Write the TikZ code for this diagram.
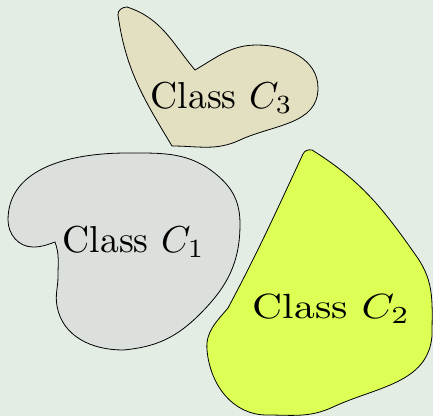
\documentclass[tikz,border=0pt]{standalone}
\usepackage{fontspec}
\begin{document}
\begin{tikzpicture}[x=1pt,y=1pt,
  blob/.style={draw=black,line width=0.8pt},
  lbl/.style={anchor=base west,inner sep=0pt,font=\fontsize{10}{12}\selectfont}]
\definecolor{bgc}{RGB}{228,237,228}
\definecolor{cone}{RGB}{220,224,220}
\definecolor{ctwo}{RGB}{221,255,85}
\definecolor{cthree}{RGB}{226,224,192}
\fill[bgc] (0,0) rectangle (433,416);
\useasboundingbox (0,0) rectangle (433,416);
% C3
\path[blob,fill=cthree] (195,346) to[out=30,in=180] (257,371) to[out=0,in=90] (318,328)
  to[out=-90,in=25] (240,276) to[out=205,in=0] (172,270)
  to[out=121,in=-82] (118,401) to[out=98,in=180] (127,409) to[out=-18,in=130] cycle;
% C1
\path[blob,fill=cone] (127,263) to[out=180,in=90] (8,196) to[out=-90,in=180] (33,169)
  to[out=0,in=200] (55,174) to[out=-70,in=90] (58,140) to[out=-90,in=100] (57,110)
  to[out=-80,in=180] (123,66) to[out=5,in=-135] (200,102) to[out=45,in=-90] (240,192)
  to[out=90,in=-40] (217,241) to[out=140,in=0] cycle;
% C2
\path[blob,fill=ctwo] (303,262) to[out=65,in=170] (312,266) to[out=-32,in=125] (417,159)
  to[out=-55,in=90] (432,80) to[out=-95,in=25] (333,9) to[out=205,in=0] (267,1)
  to[out=180,in=-85] (207,66) to[out=95,in=-130] (228,108) to[out=62,in=-115] cycle;
\node[lbl,scale=3.75] (l3) at (150,308) {Class $C_3$};
\node[lbl,scale=3.75] (l1) at (62,164) {Class $C_1$};
\node[lbl,xscale=4.15,yscale=3.5] (l2) at (252,98) {Class $C_2$};
\end{tikzpicture}
\end{document}
